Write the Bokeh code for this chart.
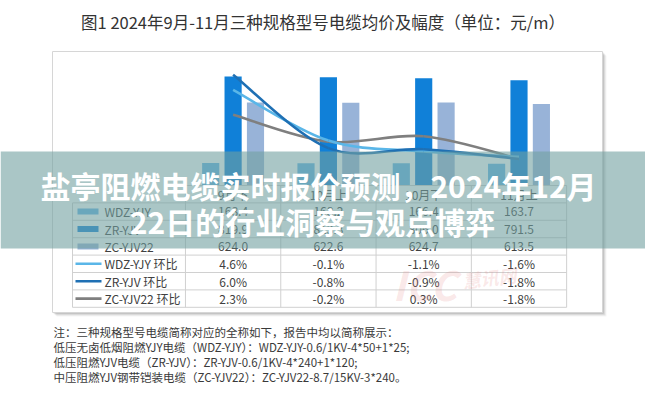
from bokeh.plotting import figure
from bokeh.models import Range1d, ColumnDataSource
from bokeh.embed import file_html
from bokeh.resources import INLINE
from bokeh.core.properties import value

# ---------------- data ----------------
categories = ["9月下", "10月上", "10月下", "11月上"]
series_names = ["WDZ-YJY", "ZR-YJV", "ZC-YJV22"]
wdz_price = [168.4, 168.2, 166.4, 163.7]
zr_price = [819.9, 813.3, 806.0, 791.5]
zc_price = [624.0, 622.6, 624.7, 613.5]
wdz_mom = [4.6, -0.1, -1.1, -1.6]
zr_mom = [6.0, -0.8, -0.9, -1.8]
zc_mom = [2.3, -0.2, 0.3, -1.8]

chart_title = "图1 2024年9月-11月三种规格型号电缆均价及幅度（单位：元/m）"
overlay_title = ["盐亭阻燃电缆实时报价预测，2024年12月", "22日的行业洞察与观点博弈"]
notes = [
    "注：三种规格型号电缆简称对应的全称如下，报告中均以简称展示：",
    "低压无卤低烟阻燃YJY电缆（WDZ-YJY）：WDZ-YJY-0.6/1KV-4*50+1*25;",
    "低压阻燃YJV电缆（ZR-YJV）：ZR-YJV-0.6/1KV-4*240+1*120;",
    "中压阻燃YJV钢带铠装电缆（ZC-YJV22）：ZC-YJV22-8.7/15KV-3*240。",
]

# ---------------- layout constants ----------------
W, H = 645, 400
FONT = value("Noto Sans CJK SC")
COL0 = 232.6      # pixel x of first category centre
COLW = 95.3       # pixel width per category
BASE = 185.0      # pixel y of value 0 for bars
K = 0.133         # pixels per price unit
PZERO = 139.0     # pixel y of 0 %
KP = 10.8         # pixels per %
ROWH = 17.4
TBL_LEFT = 72

bar_colors = ["#5fb2e6", "#1080d8", "#98b3d8"]
line_colors = ["#5ab6e8", "#1f70b4", "#7f7f7f"]

p = figure(width=W, height=H, title=None, toolbar_location=None,
           output_backend="svg", min_border=0,
           x_axis_location=None, y_axis_location=None,
           x_range=Range1d(-COL0 / COLW, (W - COL0) / COLW),
           y_range=Range1d(-(H - BASE) / K, BASE / K))
p.extra_x_ranges = {"px": Range1d(0, W)}
p.extra_y_ranges = {"py": Range1d(H, 0),
                    "pct": Range1d(-(H - PZERO) / KP, PZERO / KP)}
p.grid.visible = False
p.outline_line_color = None
p.background_fill_color = "white"
p.border_fill_color = "white"

PX = dict(x_range_name="px", y_range_name="py")
WM = dict(text_font=FONT, text_font_style="bold italic", text_color="#e58a8a",
          text_baseline="middle", **PX)

# chart title
p.text(x=[W / 2], y=[21], text=[chart_title], text_align="center",
       text_baseline="middle", text_font=FONT, text_font_size="16.5px",
       text_color="#333333", **PX)

# box shadow + box
for d, a in [(4, 0.06), (3, 0.10), (2, 0.14), (1, 0.18)]:
    p.quad(left=[52 + d], right=[602 + d], top=[51 + d], bottom=[312 + d],
           fill_color="#555555", fill_alpha=a, line_color=None, **PX)
p.quad(left=[52], right=[602], top=[51], bottom=[312], fill_color="white",
       line_color="#d6d6d6", line_width=1, **PX)

# bars
idx = list(range(len(categories)))
offsets = [-0.235, 0.0, 0.235]
for vals, off, col in zip([wdz_price, zr_price, zc_price], offsets, bar_colors):
    p.vbar(x=[i + off for i in idx], top=vals, bottom=0, width=0.18,
           fill_color=col, line_color=None)


# smoothed month-on-month lines (Catmull-Rom as cubic Bezier)
def bezier_source(vals):
    n = len(vals)
    d = {k: [] for k in ["x0", "y0", "x1", "y1", "cx0", "cy0", "cx1", "cy1"]}
    for i in range(n - 1):
        xm, ym = (i - 1, vals[i - 1]) if i > 0 else (i, vals[i])
        xp, yp = (i + 2, vals[i + 2]) if i + 2 < n else (i + 1, vals[i + 1])
        d["x0"].append(i)
        d["y0"].append(vals[i])
        d["x1"].append(i + 1)
        d["y1"].append(vals[i + 1])
        d["cx0"].append(i + (i + 1 - xm) / 6)
        d["cy0"].append(vals[i] + (vals[i + 1] - ym) / 6)
        d["cx1"].append(i + 1 - (xp - i) / 6)
        d["cy1"].append(vals[i + 1] - (yp - vals[i]) / 6)
    return ColumnDataSource(d)


for vals, col in zip([zc_mom, wdz_mom, zr_mom], [line_colors[2], line_colors[0], line_colors[1]]):
    p.bezier(x0="x0", y0="y0", x1="x1", y1="y1", cx0="cx0", cy0="cy0",
             cx1="cx1", cy1="cy1", source=bezier_source(vals),
             line_color=col, line_width=2.6, y_range_name="pct")

# data table
top = BASE
col_edges = [COL0 - COLW / 2 + COLW * i for i in range(len(categories) + 1)]
row_lines = [top + ROWH * r for r in range(8)]
p.segment(x0=[col_edges[0]], x1=[col_edges[-1]], y0=[row_lines[0]],
          y1=[row_lines[0]], line_color="#d0d0d0", line_width=1, **PX)
p.segment(x0=[TBL_LEFT] * 7, x1=[col_edges[-1]] * 7, y0=row_lines[1:],
          y1=row_lines[1:], line_color="#d0d0d0", line_width=1, **PX)
p.segment(x0=col_edges, x1=col_edges, y0=[row_lines[0]] * len(col_edges),
          y1=[row_lines[-1]] * len(col_edges), line_color="#d0d0d0", line_width=1, **PX)
p.segment(x0=[TBL_LEFT], x1=[TBL_LEFT], y0=[row_lines[1]], y1=[row_lines[-1]],
          line_color="#d0d0d0", line_width=1, **PX)

row_c = [top + ROWH * (r + 0.5) for r in range(7)]
TXT = dict(text_align="center", text_baseline="middle", text_font=FONT,
           text_font_size="12px", text_color="#404040", y_range_name="py")
p.text(x=idx, y=[row_c[0]] * 4, text=categories, **TXT)
for r, vals in enumerate([wdz_price, zr_price, zc_price]):
    p.text(x=idx, y=[row_c[r + 1]] * 4, text=[f"{v:.1f}" for v in vals], **TXT)
for r, vals in enumerate([wdz_mom, zr_mom, zc_mom]):
    p.text(x=idx, y=[row_c[r + 4]] * 4, text=[f"{v:.1f}%" for v in vals], **TXT)

# legend keys in table
for r in range(3):
    yc = row_c[r + 1]
    p.quad(left=[77], right=[98], top=[yc - 3], bottom=[yc + 3],
           fill_color=bar_colors[r], line_color=None, **PX)
    p.segment(x0=[75], x1=[101], y0=[row_c[r + 4]], y1=[row_c[r + 4]],
              line_color=line_colors[r], line_width=2.6, **PX)
labels = series_names + [s + " 环比" for s in series_names]
p.text(x=[104] * 6, y=row_c[1:], text=labels, text_align="left",
       text_baseline="middle", text_font=FONT, text_font_size="12px",
       text_color="#404040", **PX)

# faint watermark over the table
p.text(x=[392], y=[283], text=["ICC"], text_font_size="40px", text_alpha=0.2, **WM)
p.text(x=[462], y=[280], text=["慧讯网"], text_font_size="18px", text_alpha=0.2,
       angle=0.12, **WM)

# notes
p.text(x=[53] * 4, y=[331 + 15 * i for i in range(4)], text=notes,
       text_align="left", text_baseline="middle", text_font=FONT,
       text_font_size="11.5px", text_color="#3a3a3a", **PX)

# overlay band + overlay title
p.quad(left=[0], right=[W], top=[151], bottom=[248], fill_color="#72a0a0",
       fill_alpha=0.6, line_color=None, **PX)
p.text(x=[318, 312], y=[184, 220], text=overlay_title, text_align="center",
       text_baseline="middle", text_font=FONT, text_font_size="30px",
       text_font_style="bold", text_color="white", **PX)

open("out.html", "w").write(file_html(p, INLINE))
